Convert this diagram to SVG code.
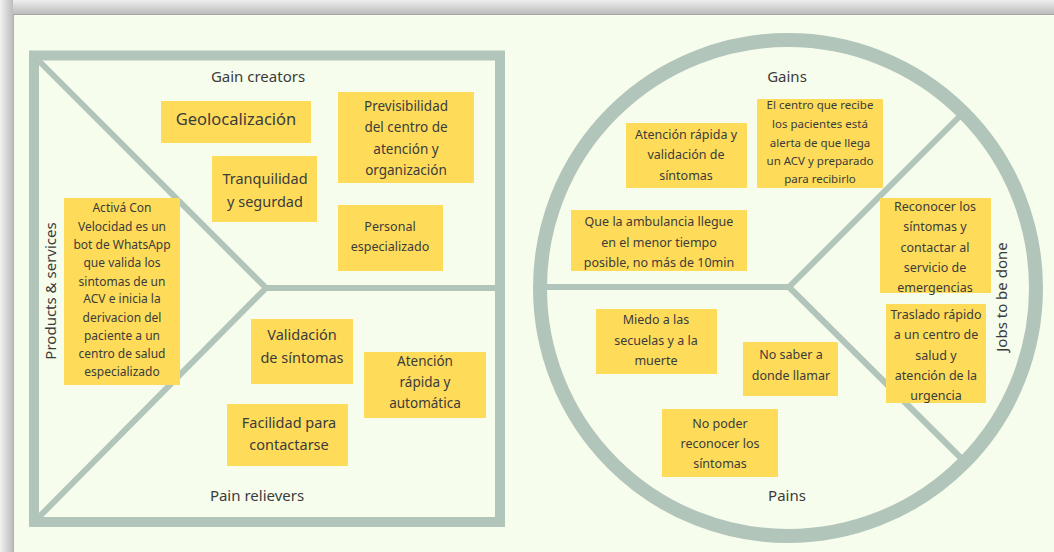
<svg xmlns="http://www.w3.org/2000/svg" width="1054" height="552" viewBox="0 0 1054 552">
<defs>
<linearGradient id="gTop" x1="0" y1="0" x2="0" y2="1"><stop offset="0" stop-color="#eeeeee"/><stop offset="1" stop-color="#bcbcbc"/></linearGradient>
<linearGradient id="gLeft" x1="0" y1="0" x2="1" y2="0"><stop offset="0" stop-color="#f2f2f2"/><stop offset="1" stop-color="#bcbcbc"/></linearGradient>
<style>
.frame{fill:none;stroke:#b2c5bb}
.note{fill:#fedc5a}
text{font-family:"Noto Sans","Open Sans",sans-serif;fill:#3b3b3b;text-anchor:middle}
.lbl{font-size:15px}
.t13{font-size:12.5px}
.t14{font-size:13.5px}
.t15{font-size:14.5px}
.t16{font-size:15.5px}
</style>
</defs>
<rect width="1054" height="552" fill="#f7fdec"/>
<rect x="0" y="0" width="1054" height="14" fill="url(#gTop)"/>
<rect x="0" y="0" width="13" height="552" fill="url(#gLeft)"/>
<line x1="13" y1="14.5" x2="1054" y2="14.5" stroke="#a6a6a6" stroke-width="1"/>
<line x1="13.5" y1="14" x2="13.5" y2="552" stroke="#b0b0b0" stroke-width="1"/>

<g id="connectors">
<rect class="frame" x="34" y="55.5" width="466" height="466.5" stroke-width="10"/>
<polyline class="frame" points="39,61 266,288 39,517" stroke-width="6"/>
<line class="frame" x1="266" y1="288" x2="496" y2="288" stroke-width="6"/>
<circle class="frame" cx="788" cy="288" r="248" stroke-width="14"/>
<line class="frame" x1="545" y1="287" x2="789" y2="287" stroke-width="6"/>
<line class="frame" x1="789" y1="287" x2="961" y2="115" stroke-width="6"/>
<line class="frame" x1="789" y1="287" x2="962" y2="459" stroke-width="6"/>
</g>

<g id="labels">
<text class="lbl" x="258" y="82">Gain creators</text>
<text class="lbl" x="257" y="501">Pain relievers</text>
<text class="lbl" transform="translate(56,291) rotate(-90)">Products &amp; services</text>
<text class="lbl" x="787" y="82">Gains</text>
<text class="lbl" x="787" y="501">Pains</text>
<text class="lbl" transform="translate(1007,297) rotate(-90)">Jobs to be done</text>
</g>

<g id="n-geo"><rect class="note" x="161" y="101" width="150" height="42"/>
<text class="t16" x="236" y="125" style="font-size:16.5px">Geolocalización</text></g>

<g id="n-previs"><rect class="note" x="338" y="92" width="136" height="91"/>
<text class="t14" x="406"><tspan x="406" y="111">Previsibilidad</tspan><tspan x="406" y="132">del centro de</tspan><tspan x="406" y="154">atención y</tspan><tspan x="406" y="175">organización</tspan></text></g>

<g id="n-tranq"><rect class="note" x="212" y="156" width="105" height="66"/>
<text class="t15" x="265"><tspan x="265" y="184">Tranquilidad</tspan><tspan x="265" y="207">y segurdad</tspan></text></g>

<g id="n-personal"><rect class="note" x="338" y="205" width="105" height="66"/>
<text class="t13" x="390"><tspan x="390" y="231">Personal</tspan><tspan x="390" y="251">especializado</tspan></text></g>

<g id="n-activa"><rect class="note" x="64" y="198" width="116" height="187"/>
<text class="t13" x="122" style="font-size:12px"><tspan x="122" y="212">Activá Con</tspan><tspan x="122" y="231">Velocidad es un</tspan><tspan x="122" y="249">bot de WhatsApp</tspan><tspan x="122" y="267">que valida los</tspan><tspan x="122" y="286">sintomas de un</tspan><tspan x="122" y="303">ACV e inicia la</tspan><tspan x="122" y="322">derivacion del</tspan><tspan x="122" y="340">paciente a un</tspan><tspan x="122" y="358">centro de salud</tspan><tspan x="122" y="376">especializado</tspan></text></g>

<g id="n-valid"><rect class="note" x="251" y="319" width="102" height="65"/>
<text class="t15" x="302"><tspan x="302" y="340">Validación</tspan><tspan x="302" y="363">de síntomas</tspan></text></g>

<g id="n-atenc"><rect class="note" x="364" y="352" width="122" height="66"/>
<text class="t14" x="425"><tspan x="425" y="366">Atención</tspan><tspan x="425" y="387">rápida y</tspan><tspan x="425" y="408">automática</tspan></text></g>

<g id="n-facil"><rect class="note" x="227" y="404" width="121" height="62"/>
<text class="t15" x="289"><tspan x="289" y="428">Facilidad para</tspan><tspan x="289" y="450">contactarse</tspan></text></g>

<g id="n-gain1"><rect class="note" x="626" y="123" width="121" height="65"/>
<text class="t13" x="686"><tspan x="686" y="139">Atención rápida y</tspan><tspan x="686" y="159">validación de</tspan><tspan x="686" y="180">síntomas</tspan></text></g>

<g id="n-gain2"><rect class="note" x="757" y="99" width="126" height="89"/>
<text class="t13" x="820" style="font-size:11.5px"><tspan x="820" y="109">El centro que recibe</tspan><tspan x="820" y="128">los pacientes está</tspan><tspan x="820" y="147">alerta de que llega</tspan><tspan x="820" y="165">un ACV y preparado</tspan><tspan x="820" y="183">para recibirlo</tspan></text></g>

<g id="n-gain3"><rect class="note" x="571" y="210" width="176" height="61"/>
<text class="t13" x="659"><tspan x="659" y="226">Que la ambulancia llegue</tspan><tspan x="659" y="247">en el menor tiempo</tspan><tspan x="659" y="267">posible, no más de 10min</tspan></text></g>

<g id="n-job1"><rect class="note" x="880" y="198" width="111" height="95"/>
<text class="t13" x="935"><tspan x="935" y="211">Reconocer los</tspan><tspan x="935" y="231">síntomas y</tspan><tspan x="935" y="252">contactar al</tspan><tspan x="935" y="272">servicio de</tspan><tspan x="935" y="292">emergencias</tspan></text></g>

<g id="n-job2"><rect class="note" x="886" y="304" width="100" height="99"/>
<text class="t13" x="936"><tspan x="936" y="319">Traslado rápido</tspan><tspan x="936" y="339">a un centro de</tspan><tspan x="936" y="360">salud y</tspan><tspan x="936" y="380">atención de la</tspan><tspan x="936" y="400">urgencia</tspan></text></g>

<g id="n-pain1"><rect class="note" x="596" y="309" width="121" height="65"/>
<text class="t13" x="656"><tspan x="656" y="324">Miedo a las</tspan><tspan x="656" y="345">secuelas y a la</tspan><tspan x="656" y="365">muerte</tspan></text></g>

<g id="n-pain2"><rect class="note" x="743" y="342" width="95" height="54"/>
<text class="t13" x="791"><tspan x="791" y="359">No saber a</tspan><tspan x="791" y="380">donde llamar</tspan></text></g>

<g id="n-pain3"><rect class="note" x="662" y="409" width="116" height="68"/>
<text class="t13" x="720"><tspan x="720" y="428">No poder</tspan><tspan x="720" y="448">reconocer los</tspan><tspan x="720" y="468">síntomas</tspan></text></g>
</svg>
